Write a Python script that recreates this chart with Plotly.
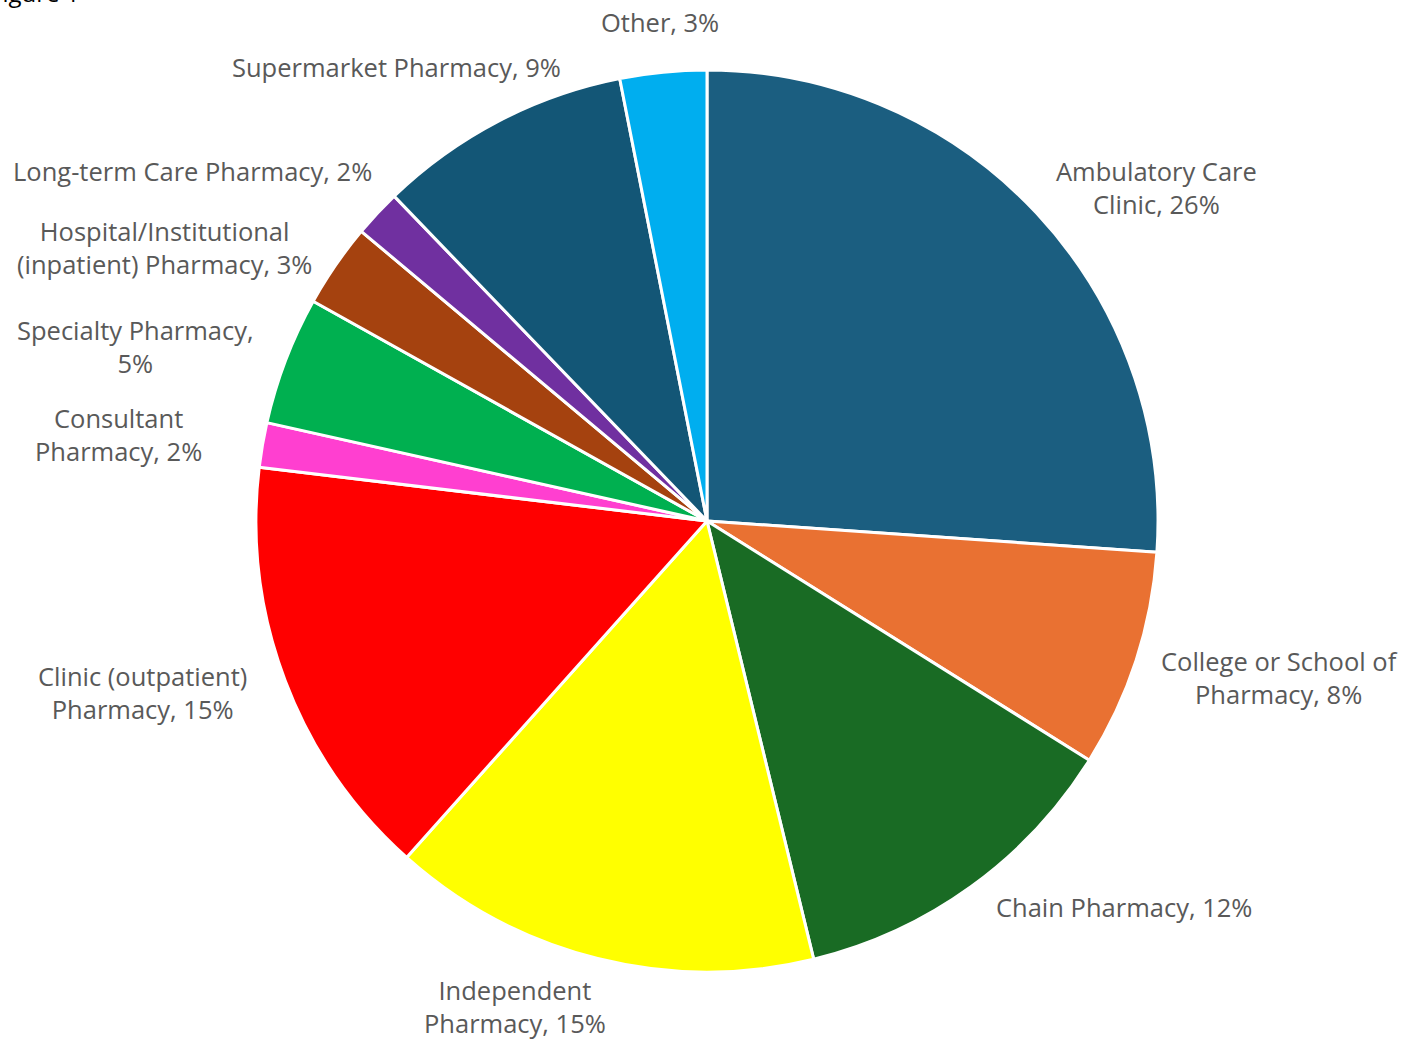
import plotly.graph_objects as go

W, H = 1419, 1039

categories = ["Ambulatory Care Clinic", "College or School of Pharmacy", "Chain Pharmacy",
              "Independent Pharmacy", "Clinic (outpatient) Pharmacy", "Consultant Pharmacy",
              "Specialty Pharmacy", "Hospital/Institutional (inpatient) Pharmacy",
              "Long-term Care Pharmacy", "Supermarket Pharmacy", "Other"]
values = [26.1, 7.8, 12.3, 15.4, 15.3, 1.6, 4.6, 3.0, 1.7, 9.1, 3.1]
pct_labels = [26, 8, 12, 15, 15, 2, 5, 3, 2, 9, 3]
label_texts = ["Ambulatory Care<br>Clinic", "College or School of<br>Pharmacy", "Chain Pharmacy",
               "Independent<br>Pharmacy", "Clinic (outpatient)<br>Pharmacy", "Consultant<br>Pharmacy",
               "Specialty Pharmacy,<br>", "Hospital/Institutional<br>(inpatient) Pharmacy",
               "Long-term Care Pharmacy", "Supermarket Pharmacy", "Other"]
colors = ["#1b5e80", "#e97132", "#196b24", "#ffff00", "#ff0000", "#ff3fd0",
          "#00b050", "#a5420f", "#7030a0", "#135676", "#00aeef"]

# label centre positions (pixels) - layout only
label_pos = [(1156, 187), (1279, 677), (1124, 907), (515, 1006), (142, 692), (118, 434),
             (135, 346), (164, 247), (192, 171), (396, 67), (660, 22)]

fig = go.Figure(go.Pie(
    labels=categories, values=values, sort=False, direction="clockwise", rotation=0,
    marker=dict(colors=colors, line=dict(color="white", width=3)),
    textinfo="none", hoverinfo="label+percent", showlegend=False,
    domain=dict(x=[256 / W, 1158 / W], y=[1 - 972 / H, 1 - 70 / H]),
))

annotations = []
for txt, p, (px, py) in zip(label_texts, pct_labels, label_pos):
    if txt.endswith("<br>"):
        full = f"{txt}{p}%"
    else:
        full = f"{txt}, {p}%"
    annotations.append(dict(
        x=px / W, y=1 - py / H, xref="paper", yref="paper", text=full, showarrow=False,
        xanchor="center", yanchor="middle", align="center",
        font=dict(family="Open Sans", size=25.5, color="#595959"),
    ))
annotations.append(dict(x=-12 / W, y=1 + 8 / H, xref="paper", yref="paper", text="Figure 1",
                        showarrow=False, xanchor="left", yanchor="middle",
                        font=dict(family="Open Sans", size=24, color="#000000")))

fig.update_layout(
    width=W, height=H, margin=dict(l=0, r=0, t=0, b=0),
    paper_bgcolor="white", plot_bgcolor="white", annotations=annotations,
)
fig.write_html("out.html")
